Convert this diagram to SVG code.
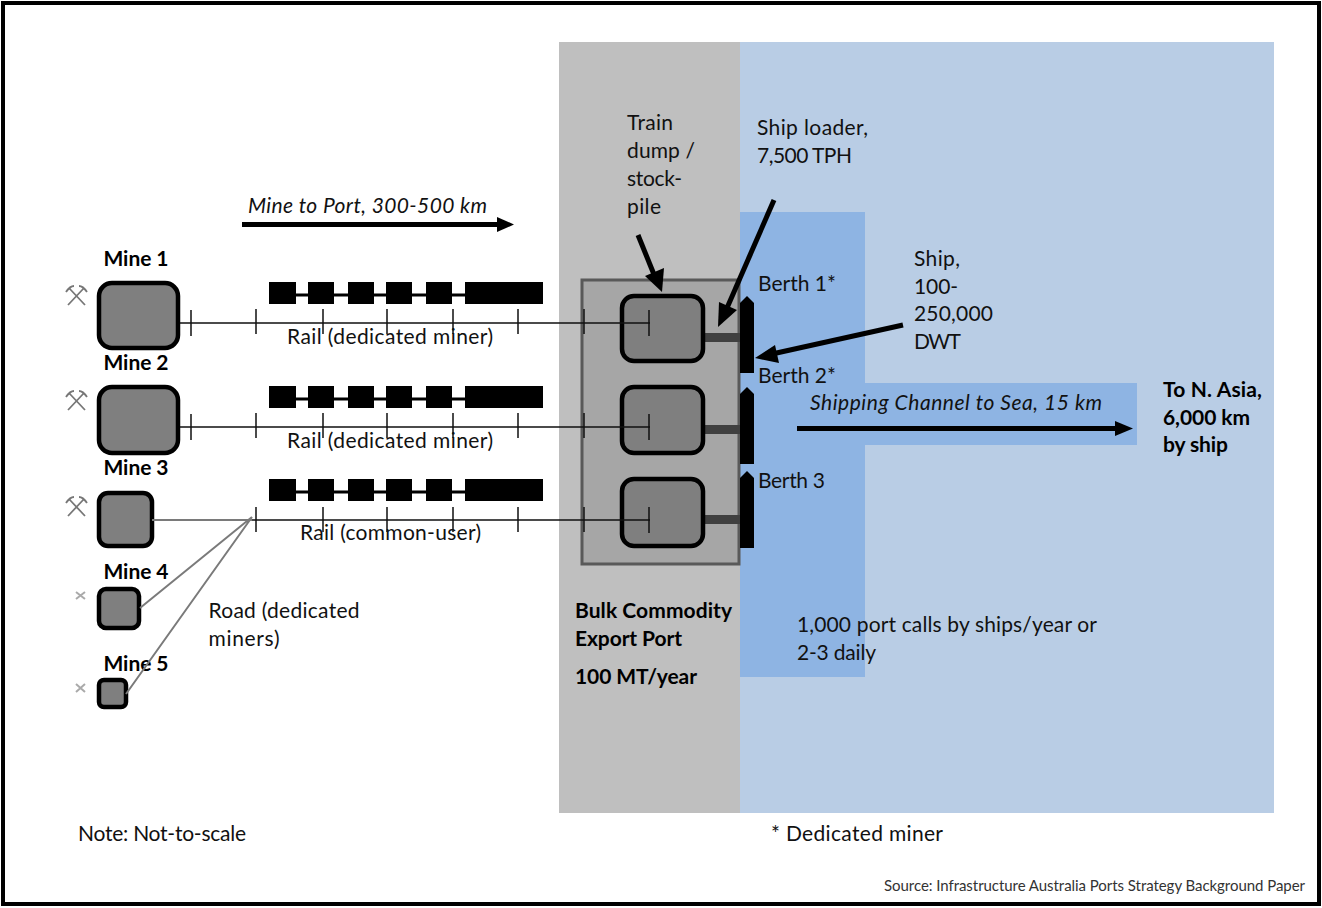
<svg xmlns="http://www.w3.org/2000/svg" width="1322" height="908" viewBox="0 0 1322 908">
<style>
text{font-family:"Lato","Liberation Sans",sans-serif;font-size:21px;fill:#111}
.b{font-weight:700;fill:#000}
.i{font-style:italic}
.s{font-size:15px;fill:#333}
.pile{fill:#7f7f7f;stroke:#000;stroke-width:4.5}
.rail{stroke:#111;stroke-width:1.5;fill:none}
.road{stroke:#7a7a7a;stroke-width:2;fill:none}
.arrow{stroke:#000;stroke-width:5;fill:none}
.head{fill:#000}
.pick{stroke:#777;stroke-width:1.8;fill:none}
.picks{stroke:#aaa;stroke-width:2;fill:none}
.boom{fill:#404040}
</style>
<defs>
<g id="train"><path d="M280 13H530" stroke="#000" stroke-width="3"/><path d="M269 0h27v22h-27zM308 0h26v22h-26zM348 0h26v22h-26zM386 0h26v22h-26zM426 0h26v22h-26zM465 0h78v22h-78z" fill="#000"/></g>
<g id="ticks"><path class="rail" d="M191 -13V13M256 -14V11M323 -14V11M387 -14V11M453 -14V11M518 -14V11M584 -14V11M649 -13V13"/></g>
</defs>
<rect x="3" y="3" width="1316" height="901" fill="#fff" stroke="#000" stroke-width="4"/>
<g id="water">
<rect x="740" y="42" width="534" height="771" fill="#b9cde5"/>
<rect x="740" y="212" width="125" height="465" fill="#8eb4e3"/>
<rect x="865" y="383" width="272" height="62" fill="#8eb4e3"/>
</g>
<g id="port">
<rect x="559" y="42" width="181" height="771" fill="#bfbfbf"/>
<rect x="582" y="280" width="157" height="284" fill="#a6a6a6" stroke="#595959" stroke-width="3"/>
<text class="b" x="575" y="618" textLength="157">Bulk Commodity</text>
<text class="b" x="575" y="646" textLength="107">Export Port</text>
<text class="b" x="575" y="684" textLength="122">100 MT/year</text>
</g>
<g id="booms">
<rect class="boom" x="705" y="333" width="35" height="9"/>
<rect class="boom" x="705" y="425" width="35" height="9"/>
<rect class="boom" x="705" y="515" width="35" height="9"/>
</g>
<g id="stockpile1"><rect class="pile" x="622" y="296" width="81" height="65" rx="12"/></g>
<g id="stockpile2"><rect class="pile" x="622" y="387" width="81" height="66" rx="12"/></g>
<g id="stockpile3"><rect class="pile" x="622" y="479" width="81" height="67" rx="12"/></g>
<g id="berth1"><path d="M740 303L747 296L754 303V373H740Z" fill="#000"/><text x="758" y="291" textLength="78">Berth 1*</text></g>
<g id="berth2"><path d="M740 394L747 387L754 394V464H740Z" fill="#000"/><text x="758" y="383" textLength="78">Berth 2*</text></g>
<g id="berth3"><path d="M740 478L747 471L754 478V548H740Z" fill="#000"/><text x="758" y="488" textLength="67">Berth 3</text></g>
<g id="mine1"><rect class="pile" x="99" y="283" width="79" height="65" rx="13"/><path class="pick" d="M68 305L84 288M85 305L69 288M66 292Q70 286 74 286M87 292Q83 286 79 286"/><text class="b" x="103.500" y="266" textLength="65">Mine 1</text></g>
<g id="mine2"><rect class="pile" x="99" y="387" width="79" height="66" rx="13"/><path class="pick" d="M68 410L84 393M85 410L69 393M66 397Q70 391 74 391M87 397Q83 391 79 391"/><text class="b" x="103.500" y="370" textLength="65">Mine 2</text></g>
<g id="mine3"><rect class="pile" x="99" y="493" width="53" height="53" rx="9"/><path class="pick" d="M68 516L84 499M85 516L69 499M66 503Q70 497 74 497M87 503Q83 497 79 497"/><text class="b" x="103.500" y="475" textLength="65">Mine 3</text></g>
<g id="mine4"><rect class="pile" x="99" y="589" width="40" height="39" rx="7"/><path class="picks" d="M76 599L85 592M85 599L76 592"/><text class="b" x="103.500" y="579" textLength="65">Mine 4</text></g>
<g id="mine5"><rect class="pile" x="99" y="680" width="27" height="27" rx="5"/><path class="picks" d="M76 692L85 684M85 692L76 684"/><text class="b" x="103.500" y="671" textLength="65">Mine 5</text></g>
<g id="trains">
<use href="#train" y="282"/>
<use href="#train" y="386"/>
<use href="#train" y="479"/>
</g>
<g id="connectors">
<path class="rail" d="M180 323H650M180 427H650M250 520H650"/>
<use href="#ticks" y="323"/>
<use href="#ticks" y="427"/>
<path class="rail" d="M256 507V532M323 507V532M387 507V532M453 507V532M518 507V532M584 507V532M649 507V533"/>
<path class="road" d="M152 520H252M140 608L252 517M126 694L252 517"/>
<path class="arrow" d="M242 224.500H500"/><path class="head" d="M514 224.500L497 217V232Z"/>
<path class="arrow" d="M797 428.500H1118"/><path class="head" d="M1133 428.500L1115 421V436Z"/>
<path class="arrow" d="M638 235L655 277"/><path class="head" d="M662 292L645 276L664 268Z"/>
<path class="arrow" d="M774 200L727 308"/><path class="head" d="M718 327L719 302L737 310Z"/>
<path class="arrow" d="M903 325L772 354"/><path class="head" d="M755 358L775 345L779 363Z"/>
</g>
<g id="labels">
<text class="i" x="248" y="213" textLength="239">Mine to Port, 300-500 km</text>
<text x="287" y="344" textLength="206">Rail (dedicated miner)</text>
<text x="287" y="448" textLength="206">Rail (dedicated miner)</text>
<text x="300" y="540" textLength="181">Rail (common-user)</text>
<text x="208.500" y="618" textLength="151">Road (dedicated</text>
<text x="208.500" y="646" textLength="71">miners)</text>
<text x="627" y="130" textLength="46">Train</text>
<text x="627" y="158" textLength="68">dump /</text>
<text x="627" y="186" textLength="55">stock-</text>
<text x="627" y="214" textLength="34">pile</text>
<text x="757" y="135" textLength="111">Ship loader,</text>
<text x="757" y="163" textLength="95">7,500 TPH</text>
<text x="914" y="266" textLength="46">Ship,</text>
<text x="914" y="294" textLength="44">100-</text>
<text x="914" y="321" textLength="79">250,000</text>
<text x="914" y="349" textLength="47">DWT</text>
<text class="i" x="810" y="410" textLength="292">Shipping Channel to Sea, 15 km</text>
<text class="b" x="1163" y="397" textLength="99">To N. Asia,</text>
<text class="b" x="1163" y="425" textLength="87">6,000 km</text>
<text class="b" x="1163" y="452" textLength="65">by ship</text>
<text x="797" y="632" textLength="300">1,000 port calls by ships/year or</text>
<text x="797" y="660" textLength="79">2-3 daily</text>
<text x="78" y="841" textLength="168">Note: Not-to-scale</text>
<text x="771" y="841" textLength="172">* Dedicated miner</text>
<text class="s" x="884" y="891" textLength="421">Source: Infrastructure Australia Ports Strategy Background Paper</text>
</g>
</svg>
